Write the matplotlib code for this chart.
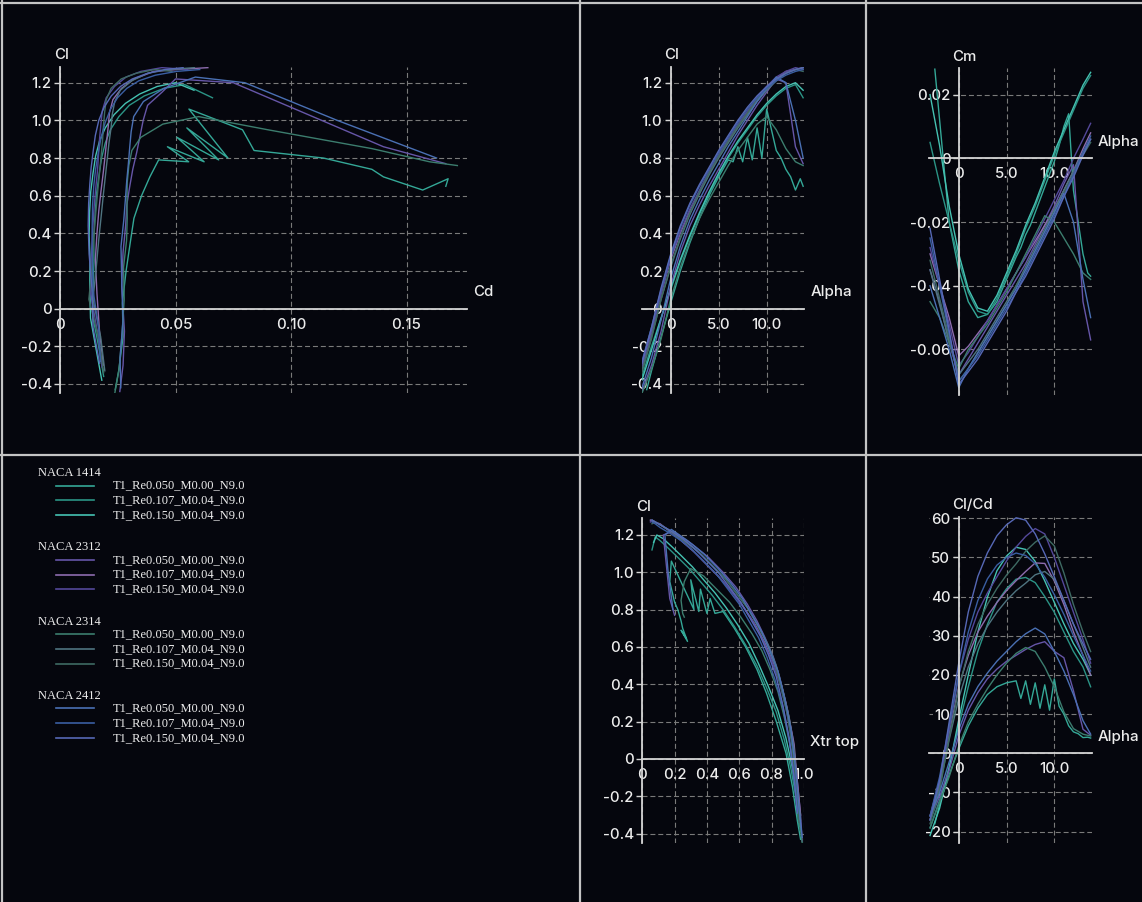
import numpy as np
import matplotlib
matplotlib.use("Agg")
import matplotlib.pyplot as plt
from matplotlib.lines import Line2D
from matplotlib.ticker import FixedLocator, FixedFormatter

# ---------------------------------------------------------------- data
foils = ["NACA 1414", "NACA 2312", "NACA 2314", "NACA 2412"]
polars = ["T1_Re0.050_M0.00_N9.0", "T1_Re0.107_M0.04_N9.0", "T1_Re0.150_M0.04_N9.0"]

polar_colors = [
    ["#34a897", "#2b9486", "#45c2b2"],   # 1414
    ["#6656a8", "#8d6cae", "#54489a"],   # 2312
    ["#3c7d6e", "#4f7480", "#3e6a63"],   # 2314
    ["#4a70b4", "#3a5ea2", "#5668b6"],   # 2412
]

alpha_std = [-3, -2, -1, 0, 1, 2, 3, 4, 5, 6, 7, 8, 9, 10, 11, 12, 13, 13.8]
# the 1414 low-Re run was swept in half degrees through its unsteady range
alpha_1414_low = [-2.5, -2, -1, 0, 1, 2, 3, 4, 5, 6, 6.5, 7, 7.5, 8, 8.5, 9, 9.5,
                  10, 10.5, 11, 11.5, 12, 12.5, 13, 13.5, 13.8]

alpha = [alpha_1414_low] + [alpha_std] * 11

cl = [
    [-0.43, -0.33, -0.15, 0.03, 0.20, 0.35, 0.48, 0.60, 0.70, 0.79, 0.78, 0.86, 0.78,
     0.91, 0.79, 0.96, 0.80, 1.06, 0.95, 0.84, 0.80, 0.74, 0.70, 0.63, 0.69, 0.65],
    [-0.36, -0.20, -0.05, 0.10, 0.25, 0.38, 0.50, 0.61, 0.71, 0.80, 0.88, 0.95, 1.02, 1.08, 1.13, 1.17, 1.19, 1.12],
    [-0.38, -0.22, -0.05, 0.11, 0.26, 0.39, 0.51, 0.62, 0.72, 0.81, 0.89, 0.96, 1.03, 1.09, 1.14, 1.18, 1.20, 1.16],
    [-0.44, -0.30, -0.12, 0.12, 0.30, 0.44, 0.55, 0.65, 0.74, 0.83, 0.92, 1.00, 1.08, 1.15, 1.22, 1.20, 0.86, 0.77],
    [-0.30, -0.12, 0.08, 0.26, 0.40, 0.52, 0.62, 0.72, 0.81, 0.89, 0.97, 1.04, 1.11, 1.17, 1.22, 1.26, 1.27, 1.28],
    [-0.31, -0.13, 0.08, 0.27, 0.41, 0.53, 0.63, 0.73, 0.82, 0.90, 0.98, 1.05, 1.12, 1.18, 1.23, 1.26, 1.28, 1.27],
    [-0.45, -0.32, -0.16, 0.05, 0.22, 0.36, 0.48, 0.58, 0.67, 0.76, 0.84, 0.91, 0.98, 1.02, 0.95, 0.85, 0.78, 0.76],
    [-0.33, -0.15, 0.05, 0.22, 0.37, 0.50, 0.61, 0.71, 0.80, 0.88, 0.96, 1.03, 1.10, 1.16, 1.21, 1.25, 1.27, 1.28],
    [-0.34, -0.16, 0.05, 0.23, 0.38, 0.51, 0.62, 0.72, 0.81, 0.89, 0.97, 1.04, 1.11, 1.17, 1.22, 1.25, 1.27, 1.26],
    [-0.42, -0.26, -0.06, 0.16, 0.33, 0.47, 0.58, 0.68, 0.77, 0.86, 0.94, 1.02, 1.10, 1.17, 1.23, 1.20, 1.00, 0.80],
    [-0.28, -0.10, 0.10, 0.28, 0.43, 0.55, 0.65, 0.74, 0.83, 0.91, 0.99, 1.06, 1.12, 1.17, 1.21, 1.24, 1.26, 1.27],
    [-0.29, -0.10, 0.11, 0.29, 0.44, 0.56, 0.66, 0.75, 0.84, 0.92, 1.00, 1.07, 1.13, 1.18, 1.22, 1.25, 1.27, 1.28],
]

cd = [
    [0.0239, 0.0254, 0.0273, 0.0270, 0.0286, 0.0304, 0.0320, 0.0353, 0.0389, 0.0427, 0.0557, 0.0465, 0.0624,
     0.0506, 0.0687, 0.0549, 0.0727, 0.0558, 0.0790, 0.0840, 0.1140, 0.1350, 0.1400, 0.1570, 0.1680, 0.1670],
    [0.0189, 0.0167, 0.0143, 0.0143, 0.0147, 0.0146, 0.0152, 0.0158, 0.0169, 0.0180, 0.0196, 0.0218, 0.0255, 0.0300, 0.0365, 0.0450, 0.0540, 0.0660],
    [0.0181, 0.0157, 0.0132, 0.0129, 0.0130, 0.0126, 0.0128, 0.0133, 0.0143, 0.0154, 0.0171, 0.0196, 0.0234, 0.0283, 0.0345, 0.0421, 0.0500, 0.0580],
    [0.0259, 0.0273, 0.0279, 0.0267, 0.0273, 0.0284, 0.0289, 0.0302, 0.0315, 0.0332, 0.0347, 0.0360, 0.0379, 0.0442, 0.0500, 0.0750, 0.1400, 0.1670],
    [0.0188, 0.0171, 0.0160, 0.0153, 0.0160, 0.0168, 0.0177, 0.0187, 0.0195, 0.0202, 0.0209, 0.0214, 0.0229, 0.0266, 0.0321, 0.0406, 0.0508, 0.0640],
    [0.0182, 0.0163, 0.0133, 0.0135, 0.0141, 0.0147, 0.0154, 0.0162, 0.0167, 0.0171, 0.0177, 0.0183, 0.0200, 0.0236, 0.0286, 0.0350, 0.0441, 0.0552],
    [0.0237, 0.0256, 0.0267, 0.0278, 0.0275, 0.0288, 0.0291, 0.0290, 0.0291, 0.0298, 0.0311, 0.0350, 0.0445, 0.0600, 0.0900, 0.1350, 0.1600, 0.1720],
    [0.0194, 0.0176, 0.0143, 0.0157, 0.0168, 0.0179, 0.0188, 0.0197, 0.0205, 0.0212, 0.0221, 0.0226, 0.0237, 0.0261, 0.0310, 0.0379, 0.0470, 0.0582],
    [0.0189, 0.0168, 0.0125, 0.0139, 0.0146, 0.0155, 0.0163, 0.0171, 0.0178, 0.0184, 0.0188, 0.0193, 0.0200, 0.0221, 0.0265, 0.0329, 0.0410, 0.0485],
    [0.0263, 0.0260, 0.0273, 0.0267, 0.0264, 0.0276, 0.0283, 0.0289, 0.0296, 0.0302, 0.0308, 0.0319, 0.0361, 0.0450, 0.0586, 0.0800, 0.1200, 0.1630],
    [0.0175, 0.0167, 0.0143, 0.0140, 0.0139, 0.0141, 0.0146, 0.0154, 0.0166, 0.0178, 0.0196, 0.0219, 0.0249, 0.0289, 0.0341, 0.0413, 0.0504, 0.0605],
    [0.0171, 0.0143, 0.0138, 0.0126, 0.0122, 0.0124, 0.0129, 0.0135, 0.0144, 0.0153, 0.0168, 0.0191, 0.0222, 0.0262, 0.0313, 0.0379, 0.0454, 0.0533],
]

cm = [
    [0.028, 0.012, -0.020, -0.035, -0.045, -0.050, -0.049, -0.045, -0.038, -0.031, -0.028, -0.024, -0.021,
     -0.017, -0.013, -0.009, -0.005, -0.001, 0.004, 0.010, 0.014, -0.010, -0.020, -0.030, -0.036, -0.037],
    [0.005, -0.008, -0.020, -0.032, -0.042, -0.048, -0.049, -0.044, -0.037, -0.030, -0.022, -0.015, -0.007, 0.001, 0.008, 0.015, 0.022, 0.026],
    [0.020, 0.004, -0.015, -0.030, -0.041, -0.047, -0.048, -0.043, -0.036, -0.029, -0.021, -0.014, -0.006, 0.002, 0.009, 0.016, 0.023, 0.027],
    [-0.035, -0.045, -0.058, -0.068, -0.063, -0.058, -0.053, -0.048, -0.043, -0.038, -0.033, -0.027, -0.021, -0.015, -0.008, -0.002, -0.045, -0.057],
    [-0.030, -0.040, -0.050, -0.062, -0.059, -0.055, -0.051, -0.046, -0.041, -0.036, -0.031, -0.026, -0.021, -0.016, -0.010, -0.004, 0.003, 0.008],
    [-0.028, -0.040, -0.052, -0.065, -0.061, -0.056, -0.051, -0.046, -0.041, -0.036, -0.031, -0.025, -0.019, -0.013, -0.007, 0.000, 0.006, 0.011],
    [-0.045, -0.050, -0.058, -0.066, -0.060, -0.056, -0.052, -0.047, -0.042, -0.036, -0.030, -0.024, -0.018, -0.020, -0.025, -0.030, -0.036, -0.038],
    [-0.035, -0.046, -0.057, -0.068, -0.064, -0.060, -0.055, -0.050, -0.045, -0.040, -0.034, -0.028, -0.022, -0.016, -0.010, -0.004, 0.002, 0.006],
    [-0.032, -0.044, -0.056, -0.070, -0.066, -0.061, -0.056, -0.051, -0.046, -0.040, -0.035, -0.029, -0.023, -0.017, -0.011, -0.005, 0.001, 0.005],
    [-0.040, -0.050, -0.060, -0.072, -0.066, -0.061, -0.056, -0.051, -0.046, -0.041, -0.035, -0.029, -0.023, -0.017, -0.011, -0.020, -0.038, -0.050],
    [-0.025, -0.040, -0.055, -0.070, -0.066, -0.062, -0.057, -0.052, -0.047, -0.042, -0.036, -0.030, -0.024, -0.018, -0.012, -0.005, 0.002, 0.007],
    [-0.022, -0.038, -0.054, -0.071, -0.067, -0.063, -0.058, -0.053, -0.048, -0.042, -0.037, -0.031, -0.025, -0.019, -0.012, -0.006, 0.001, 0.006],
]

xtr_top = [
    [0.98, 0.96, 0.93, 0.89, 0.83, 0.77, 0.71, 0.64, 0.57, 0.50, 0.45, 0.42, 0.40,
     0.36, 0.35, 0.30, 0.32, 0.18, 0.17, 0.20, 0.22, 0.24, 0.25, 0.28, 0.24, 0.27],
    [0.97, 0.95, 0.92, 0.88, 0.83, 0.77, 0.71, 0.64, 0.57, 0.50, 0.43, 0.36, 0.29, 0.22, 0.16, 0.11, 0.08, 0.06],
    [0.98, 0.96, 0.93, 0.89, 0.84, 0.78, 0.72, 0.66, 0.59, 0.52, 0.45, 0.38, 0.31, 0.24, 0.18, 0.13, 0.09, 0.07],
    [0.99, 0.98, 0.96, 0.93, 0.89, 0.85, 0.81, 0.76, 0.71, 0.65, 0.58, 0.50, 0.41, 0.31, 0.19, 0.13, 0.17, 0.20],
    [0.98, 0.96, 0.94, 0.90, 0.86, 0.81, 0.76, 0.70, 0.63, 0.56, 0.48, 0.40, 0.32, 0.24, 0.17, 0.11, 0.07, 0.05],
    [0.97, 0.95, 0.93, 0.89, 0.85, 0.80, 0.75, 0.69, 0.62, 0.55, 0.47, 0.39, 0.31, 0.23, 0.16, 0.10, 0.06, 0.05],
    [0.99, 0.97, 0.95, 0.92, 0.88, 0.84, 0.79, 0.74, 0.68, 0.61, 0.54, 0.46, 0.38, 0.30, 0.26, 0.24, 0.25, 0.26],
    [0.98, 0.96, 0.94, 0.91, 0.87, 0.83, 0.78, 0.72, 0.66, 0.59, 0.52, 0.44, 0.36, 0.27, 0.19, 0.12, 0.08, 0.06],
    [0.97, 0.95, 0.93, 0.90, 0.86, 0.82, 0.77, 0.71, 0.65, 0.58, 0.51, 0.43, 0.35, 0.26, 0.18, 0.12, 0.08, 0.06],
    [0.99, 0.97, 0.95, 0.92, 0.88, 0.84, 0.79, 0.74, 0.68, 0.62, 0.55, 0.47, 0.38, 0.28, 0.18, 0.14, 0.16, 0.19],
    [0.96, 0.94, 0.91, 0.87, 0.82, 0.77, 0.72, 0.66, 0.60, 0.53, 0.46, 0.38, 0.31, 0.24, 0.17, 0.11, 0.08, 0.06],
    [0.96, 0.94, 0.91, 0.87, 0.83, 0.78, 0.73, 0.67, 0.61, 0.54, 0.47, 0.39, 0.32, 0.25, 0.18, 0.12, 0.08, 0.06],
]

cl_ticks = [-0.4, -0.2, 0, 0.2, 0.4, 0.6, 0.8, 1.0, 1.2]
cl_labels = ["-0.4", "-0.2", "0", "0.2", "0.4", "0.6", "0.8", "1.0", "1.2"]
cd_ticks = [0, 0.05, 0.10, 0.15]
cd_labels = ["0", "0.05", "0.10", "0.15"]
alpha_ticks = [0, 5, 10]
alpha_labels = ["0", "5.0", "10.0"]
cm_ticks = [-0.06, -0.04, -0.02, 0, 0.02]
cm_labels = ["-0.06", "-0.04", "-0.02", "0", "0.02"]
xtr_ticks = [0, 0.2, 0.4, 0.6, 0.8, 1.0]
xtr_labels = ["0", "0.2", "0.4", "0.6", "0.8", "1.0"]
ld_ticks = [-20, -10, 0, 10, 20, 30, 40, 50, 60]
ld_labels = ["-20", "-10", "0", "10", "20", "30", "40", "50", "60"]

# ---------------------------------------------------------------- style
BG = "#05060d"
FRAME = "#c4c4c4"
AXIS = "#d4d4d4"
GRID = "#7a7a7a"
TEXT = "#ececec"
LW = 1.0

plt.rcParams["font.family"] = ["Inter", "DejaVu Sans"]

W, H = 1142, 902
fig = plt.figure(figsize=(W / 100, H / 100), dpi=100, facecolor=BG)


def panel(x0, x1, top, bottom):
    ax = fig.add_axes([x0 / W, 1 - bottom / H, (x1 - x0) / W, (bottom - top) / H])
    ax.set_facecolor("none")
    return ax


def dress(ax, xlim, ylim, xt, xl, yt, yl, xname, yname):
    ax.set_xlim(*xlim)
    ax.set_ylim(*ylim)
    for s in ("top", "right"):
        ax.spines[s].set_visible(False)
    for s in ("left", "bottom"):
        ax.spines[s].set_position(("data", 0))
        ax.spines[s].set_color(AXIS)
        ax.spines[s].set_linewidth(1.3)
    ax.xaxis.set_major_locator(FixedLocator(xt))
    ax.xaxis.set_major_formatter(FixedFormatter(xl))
    ax.yaxis.set_major_locator(FixedLocator(yt))
    ax.yaxis.set_major_formatter(FixedFormatter(yl))
    ax.tick_params(axis="x", length=0, pad=6.5, labelsize=10.8, labelcolor=TEXT)
    ax.tick_params(axis="y", length=4.5, width=1.0, color=AXIS, pad=1.5,
                   labelsize=10.8, labelcolor=TEXT)
    ax.grid(True, color=GRID, lw=0.8, ls=(0, (4.5, 2.6)))
    for lab in ax.get_xticklabels() + ax.get_yticklabels():
        lab.set_fontweight("medium")
    for lab in ax.get_yticklabels():
        lab.set_bbox(dict(facecolor=BG, edgecolor="none", pad=0.6))
    ax.annotate(yname, xy=(0, 1), xycoords=("data", "axes fraction"),
                xytext=(-4.5, 8.2), textcoords="offset points", ha="left", va="center",
                fontsize=10.8, fontweight="medium", color=TEXT, annotation_clip=False)
    ax.annotate(xname, xy=(1, 0), xycoords=("axes fraction", "data"),
                xytext=(4.5, 12), textcoords="offset points", ha="left", va="center",
                fontsize=10.8, fontweight="medium", color=TEXT, annotation_clip=False)


ax_polar = panel(60, 466.6, 66.7, 393.4)
ax_cl = panel(641.9, 804.1, 66.7, 393.4)
ax_cm = panel(929.1, 1091.6, 68.2, 395.0)
ax_xtr = panel(642.3, 803.8, 518.2, 843.0)
ax_ld = panel(929.1, 1091.6, 516.7, 843.0)

dress(ax_polar, (0, 0.176), (-0.45, 1.285), cd_ticks, cd_labels, cl_ticks, cl_labels, "Cd", "Cl")
dress(ax_cl, (-3.0, 13.9), (-0.45, 1.285), alpha_ticks, alpha_labels, cl_ticks, cl_labels, "Alpha", "Cl")
dress(ax_cm, (-3.1, 13.9), (-0.0743, 0.0283), alpha_ticks, alpha_labels, cm_ticks, cm_labels, "Alpha", "Cm")
dress(ax_xtr, (0, 1.0), (-0.45, 1.29), xtr_ticks, xtr_labels, cl_ticks, cl_labels, "Xtr top", "Cl")
dress(ax_ld, (-3.1, 13.9), (-22.9, 60.4), alpha_ticks, alpha_labels, ld_ticks, ld_labels, "Alpha", "Cl/Cd")

for g in range(len(foils)):
    for k in range(len(polars)):
        i = 3 * g + k
        a = np.array(alpha[i])
        lift = np.array(cl[i])
        drag = np.array(cd[i])
        c = polar_colors[g][k]
        ax_polar.plot(drag, lift, color=c, lw=LW)
        ax_cl.plot(a, lift, color=c, lw=LW)
        ax_cm.plot(a, cm[i], color=c, lw=LW)
        ax_xtr.plot(xtr_top[i], lift, color=c, lw=LW)
        ax_ld.plot(a, lift / drag, color=c, lw=LW)

# legend block in the lower-left pane, laid out in pixel units
leg = fig.add_axes([0, 0, 578 / W, (902 - 457) / H])
leg.set_xlim(0, 578)
leg.set_ylim(902, 457)
leg.axis("off")
for g, foil in enumerate(foils):
    y0 = 473.3 + 74.2 * g
    leg.text(38, y0, foil, family="Liberation Serif", fontsize=9.0, color=TEXT,
             ha="left", va="center")
    for k, name in enumerate(polars):
        y = y0 + 12.3 + 14.8 * k
        leg.plot([56, 94], [y, y], color=polar_colors[g][k], lw=1.2)
        leg.text(113, y, name, family="Liberation Serif", fontsize=9.0, color=TEXT,
                 ha="left", va="center")

# pane separators
for xs, ys in [((580, 580), (0, 902)), ((866, 866), (0, 902)), ((0, W), (455, 455)),
               ((1.5, 1.5), (0, 902)), ((0, W), (2.5, 2.5))]:
    fig.add_artist(Line2D([x / W for x in xs], [1 - y / H for y in ys],
                          color=FRAME, lw=1.6))

fig.savefig("out.png", dpi=100, facecolor=BG)
